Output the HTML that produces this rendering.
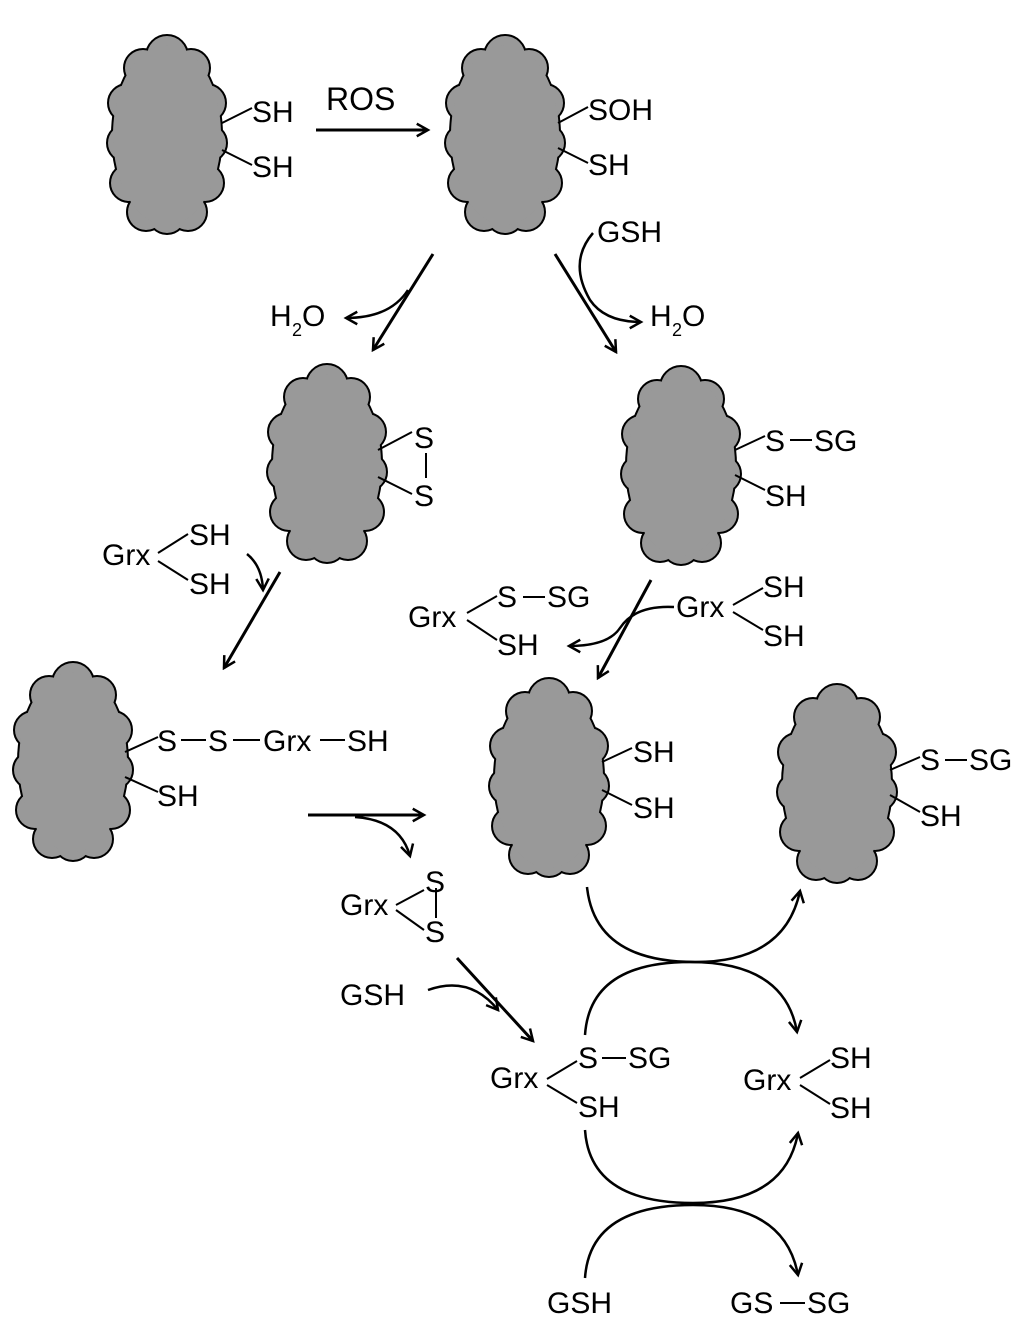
<!DOCTYPE html>
<html><head><meta charset="utf-8"><style>
html,body{margin:0;padding:0;background:#fff;}
svg{display:block;}
text{font-family:"Liberation Sans",sans-serif;font-size:30px;fill:#000;}
</style></head><body>
<svg width="1033" height="1342" viewBox="0 0 1033 1342" xmlns="http://www.w3.org/2000/svg">
<defs>
<marker id="a" viewBox="0 0 12 12" refX="10" refY="6" markerWidth="15" markerHeight="15" orient="auto" markerUnits="userSpaceOnUse">
<path d="M1,1 L10,6 L1,11" fill="none" stroke="#000" stroke-width="2"/>
</marker>
<g id="cs">
<circle cx="59" cy="21" r="20"/><circle cx="35" cy="33" r="18"/><circle cx="83" cy="33" r="18"/>
<circle cx="19" cy="68" r="18"/><circle cx="99" cy="68" r="18"/>
<circle cx="18" cy="108" r="18"/><circle cx="100" cy="108" r="18"/>
<circle cx="21" cy="148" r="18"/><circle cx="97" cy="148" r="18"/>
<circle cx="38" cy="177" r="18"/><circle cx="80" cy="177" r="18"/><circle cx="59" cy="180" r="18"/>
<ellipse cx="59" cy="100" rx="54" ry="90"/>
</g>
<g id="cloud">
<use href="#cs" fill="#000" stroke="#000" stroke-width="4"/>
<use href="#cs" fill="#999" stroke="none"/>
</g>
</defs>

<use href="#cloud" transform="translate(108,35)"/>
<use href="#cloud" transform="translate(446,35)"/>
<use href="#cloud" transform="translate(268,364)"/>
<use href="#cloud" transform="translate(622,366)"/>
<use href="#cloud" transform="translate(14,662)"/>
<use href="#cloud" transform="translate(490,678)"/>
<use href="#cloud" transform="translate(778,684)"/>

<g stroke="#000" stroke-width="2" fill="none">
<line x1="222" y1="123" x2="252" y2="108"/><line x1="222" y1="150" x2="252" y2="165"/>
<line x1="558" y1="123" x2="588" y2="107"/><line x1="558" y1="148" x2="588" y2="163"/>
<line x1="378" y1="450" x2="412" y2="432"/><line x1="378" y1="477" x2="412" y2="494"/>
<line x1="426" y1="453" x2="426" y2="478"/>
<line x1="735" y1="450" x2="765" y2="436"/><line x1="735" y1="475" x2="765" y2="490"/>
<line x1="790" y1="440" x2="812" y2="440"/>
<line x1="158" y1="553" x2="188" y2="534"/><line x1="158" y1="561" x2="188" y2="580"/>
<line x1="125" y1="752" x2="158" y2="737"/><line x1="125" y1="777" x2="158" y2="792"/>
<line x1="181" y1="740" x2="206" y2="740"/><line x1="233" y1="740" x2="260" y2="740"/><line x1="320" y1="740" x2="345" y2="740"/>
<line x1="467" y1="613" x2="497" y2="596"/><line x1="467" y1="620" x2="497" y2="640"/>
<line x1="523" y1="597" x2="545" y2="597"/>
<line x1="733" y1="605" x2="763" y2="588"/><line x1="733" y1="612" x2="763" y2="630"/>
<line x1="602" y1="762" x2="632" y2="748"/><line x1="602" y1="790" x2="632" y2="805"/>
<line x1="890" y1="770" x2="920" y2="757"/><line x1="890" y1="795" x2="920" y2="812"/>
<line x1="945" y1="760" x2="967" y2="760"/>
<line x1="396" y1="905" x2="424" y2="890"/><line x1="396" y1="910" x2="424" y2="930"/>
<line x1="436" y1="888" x2="436" y2="918"/>
<line x1="547" y1="1079" x2="577" y2="1061"/><line x1="547" y1="1085" x2="577" y2="1103"/>
<line x1="602" y1="1058" x2="626" y2="1058"/>
<line x1="800" y1="1078" x2="830" y2="1060"/><line x1="800" y1="1085" x2="830" y2="1104"/>
<line x1="780" y1="1303" x2="805" y2="1303"/>
</g>

<g stroke="#000" stroke-width="3" fill="none" marker-end="url(#a)">
<line x1="316" y1="130" x2="428" y2="130"/>
<line x1="433" y1="254" x2="373" y2="350"/>
<line x1="555" y1="254" x2="616" y2="352"/>
<line x1="280" y1="572" x2="224" y2="668"/>
<line x1="651" y1="580" x2="598" y2="678"/>
<line x1="308" y1="815" x2="424" y2="815"/>
<line x1="457" y1="958" x2="533" y2="1041"/>
</g>
<g stroke="#000" stroke-width="2.5" fill="none" marker-end="url(#a)">
<path d="M408,290 Q390,318 346,318"/>
<path d="M593,233 Q568,262 590,300 Q605,322 641,322"/>
<path d="M247,554 Q262,566 263,590"/>
<path d="M674,607 Q635,605 620,628 Q608,646 569,646"/>
<path d="M355,817 Q400,820 410,856"/>
<path d="M428,990 Q470,975 498,1010"/>
<path d="M587,887 Q595,962 695,962 Q785,962 800,891"/>
<path d="M585,1035 Q590,962 690,962 Q785,962 797,1032"/>
<path d="M585,1130 Q590,1203 693,1203 Q785,1203 798,1133"/>
<path d="M585,1278 Q590,1205 693,1205 Q785,1205 798,1275"/>
</g>

<text x="252" y="122">SH</text>
<text x="252" y="177">SH</text>
<text x="326" y="110" style="font-size:32px">ROS</text>
<text x="588" y="120">SOH</text>
<text x="588" y="175">SH</text>
<text x="597" y="242">GSH</text>
<text x="270" y="326">H</text><text x="292" y="336" style="font-size:18px">2</text><text x="302" y="326">O</text>
<text x="650" y="326">H</text><text x="672" y="336" style="font-size:18px">2</text><text x="682" y="326">O</text>
<text x="414" y="448">S</text>
<text x="414" y="506">S</text>
<text x="765" y="451">S</text><text x="814" y="451">SG</text>
<text x="765" y="506">SH</text>
<text x="102" y="565">Grx</text>
<text x="189" y="545">SH</text>
<text x="189" y="594">SH</text>
<text x="157" y="751">S</text><text x="208" y="751">S</text><text x="263" y="751">Grx</text><text x="347" y="751">SH</text>
<text x="157" y="806">SH</text>
<text x="408" y="627">Grx</text>
<text x="497" y="607">S</text><text x="547" y="607">SG</text>
<text x="497" y="655">SH</text>
<text x="676" y="617">Grx</text>
<text x="763" y="597">SH</text>
<text x="763" y="646">SH</text>
<text x="633" y="762">SH</text>
<text x="633" y="818">SH</text>
<text x="920" y="770">S</text><text x="969" y="770">SG</text>
<text x="920" y="826">SH</text>
<text x="340" y="915">Grx</text>
<text x="425" y="892">S</text>
<text x="425" y="942">S</text>
<text x="340" y="1005">GSH</text>
<text x="490" y="1088">Grx</text>
<text x="578" y="1068">S</text><text x="628" y="1068">SG</text>
<text x="578" y="1117">SH</text>
<text x="743" y="1090">Grx</text>
<text x="830" y="1068">SH</text>
<text x="830" y="1118">SH</text>
<text x="547" y="1313">GSH</text>
<text x="730" y="1313">GS</text><text x="807" y="1313">SG</text>
</svg>
</body></html>
